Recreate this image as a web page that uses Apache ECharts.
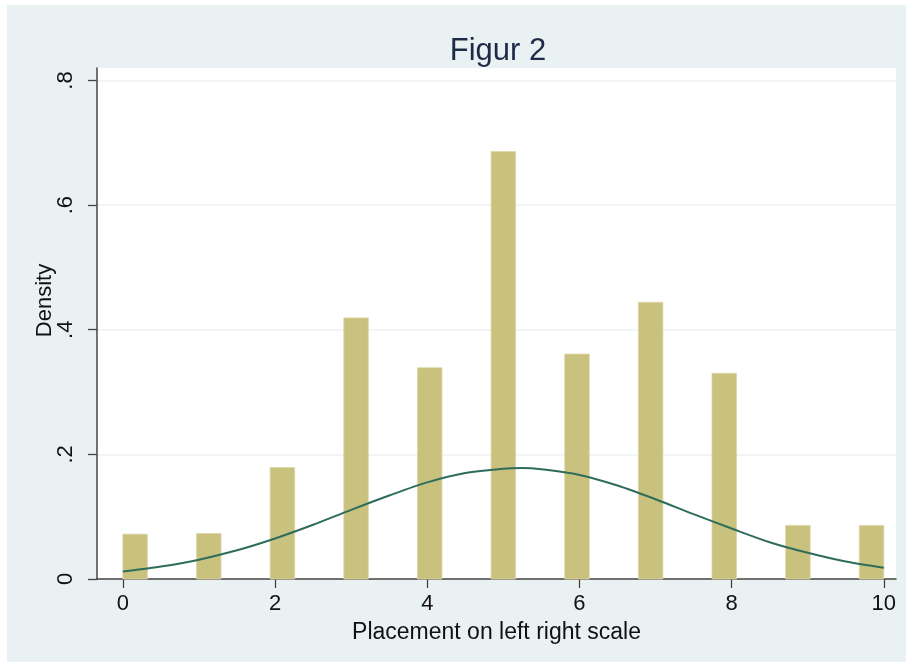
<!DOCTYPE html>
<html>
<head>
<meta charset="utf-8">
<script src="https://cdn.jsdelivr.net/npm/echarts@6/dist/echarts.min.js"></script>
<style>
  html, body { margin: 0; padding: 0; background: #fff; }
  #wrap {
    position: absolute;
    left: 7px;
    top: 5px;
    width: 899px;
    height: 657px;
    background: #eaf1f3;
  }
  #chart { width: 100%; height: 100%; }
</style>
</head>
<body>
<div id="wrap"><div id="chart"></div></div>
<script>
// histogram: scale value -> density of its bin
const scores = [0, 1, 2, 3, 4, 5, 6, 7, 8, 9, 10];
const density = [0.072, 0.073, 0.179, 0.419, 0.339, 0.686, 0.361, 0.444, 0.330, 0.086, 0.086];
const binCount = 31;
const binWidth = 10 / binCount;

// normal density overlay
const curveX = [0, 0.5, 1, 1.5, 2, 2.5, 3, 3.5, 4, 4.5, 5, 5.25, 5.5, 6, 6.5, 7, 7.5, 8, 8.5, 9, 9.5, 10];
const curveY = [0.012, 0.020, 0.031, 0.046, 0.065, 0.087, 0.111, 0.134, 0.155, 0.170, 0.177, 0.178, 0.176, 0.167, 0.150, 0.128, 0.104, 0.081, 0.059, 0.042, 0.028, 0.018];

const xTicks = [0, 2, 4, 6, 8, 10];
const yTicks = [0, 0.2, 0.4, 0.6, 0.8];

const bars = scores.map(function (v, i) {
  const start = Math.min(Math.floor(v / binWidth), binCount - 1) * binWidth;
  return [start, start + binWidth, density[i]];
});

const font = '"Liberation Sans", Arial, sans-serif';

const chart = echarts.init(document.getElementById('chart'));
chart.setOption({
  animation: false,
  backgroundColor: 'transparent',
  title: {
    text: 'Figur 2',
    left: 486,
    textAlign: 'center',
    top: 26,
    textStyle: { fontFamily: font, fontSize: 31, fontWeight: 'normal', color: '#1e2b46' }
  },
  grid: {
    left: 90,
    top: 63,
    right: 10,
    bottom: 83,
    show: true,
    backgroundColor: '#ffffff',
    borderWidth: 0
  },
  xAxis: {
    type: 'value',
    min: -0.34,
    max: 10.16,
    name: 'Placement on left right scale',
    nameLocation: 'middle',
    nameGap: 42,
    nameMoveOverlap: false,
    nameTextStyle: { fontFamily: font, fontSize: 23, color: '#111' },
    axisLine: { onZero: false, lineStyle: { color: '#444', width: 1.5 } },
    axisTick: { show: true, length: 9, customValues: xTicks, lineStyle: { color: '#444', width: 1.3 } },
    axisLabel: { customValues: xTicks, margin: 14, fontFamily: font, fontSize: 22, color: '#111' },
    splitLine: { show: false }
  },
  yAxis: {
    type: 'value',
    min: 0,
    max: 0.82,
    name: 'Density',
    nameLocation: 'middle',
    nameGap: 41,
    nameMoveOverlap: false,
    nameTextStyle: { fontFamily: font, fontSize: 22, color: '#111', padding: [0, 0, 0, 46] },
    axisLine: { show: true, onZero: false, lineStyle: { color: '#444', width: 1.5 } },
    axisTick: { show: true, length: 9, customValues: yTicks, lineStyle: { color: '#444', width: 1.3 } },
    axisLabel: {
      customValues: yTicks,
      rotate: 90,
      margin: 20,
      fontFamily: font,
      fontSize: 22,
      color: '#111',
      formatter: function (v) {
        return v === 0 ? '0' : String(Math.round(v * 10) / 10).replace(/^0/, '');
      }
    },
    splitLine: { show: true, lineStyle: { color: '#eef1f2', width: 1.5 } }
  },
  series: [
    {
      type: 'custom',
      data: bars,
      renderItem: function (params, api) {
        const p0 = api.coord([api.value(0), api.value(2)]);
        const p1 = api.coord([api.value(1), 0]);
        return {
          type: 'rect',
          shape: { x: p0[0], y: p0[1], width: p1[0] - p0[0], height: p1[1] - p0[1] },
          style: { fill: '#c9c17e', stroke: '#ddd7a8', lineWidth: 0.8 }
        };
      },
      z: 2
    },
    {
      type: 'line',
      data: curveX.map(function (x, i) { return [x, curveY[i]]; }),
      smooth: 0.3,
      showSymbol: false,
      lineStyle: { color: '#2e6c5b', width: 2 },
      z: 3
    }
  ]
});
</script>
</body>
</html>
